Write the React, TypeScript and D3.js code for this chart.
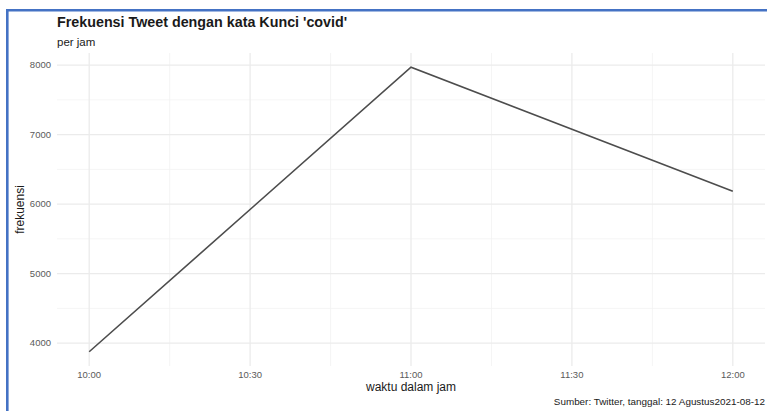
import React from "react";
import * as d3 from "d3";

const times = ["10:00", "11:00", "12:00"];
const counts = [3875, 7970, 6185];
const yTicks = [4000, 5000, 6000, 7000, 8000];
const xTickLabels = ["10:00", "10:30", "11:00", "11:30", "12:00"];

const W = 767;
const H = 411;
const FONT = "'Liberation Sans', Arial, sans-serif";

function toMin(t: string) {
  const [h, m] = t.split(":").map(Number);
  return h * 60 + m;
}

export default function App() {
  const panel = { left: 57, right: 765, top: 53, bottom: 366 };
  const xs = times.map(toMin);
  const xMin = d3.min(xs)!, xMax = d3.max(xs)!;
  const xPad = (xMax - xMin) * 0.05;
  const x = d3.scaleLinear().domain([xMin - xPad, xMax + xPad]).range([panel.left, panel.right]);
  const yMin = d3.min(counts)!, yMax = d3.max(counts)!;
  const yPad = (yMax - yMin) * 0.05;
  const y = d3.scaleLinear().domain([yMin - yPad, yMax + yPad]).range([panel.bottom, panel.top]);

  const xMajor = xTickLabels.map(toMin);
  const xMinor = xMajor.slice(0, -1).map((v) => v + 15);
  const yMinor = yTicks.slice(0, -1).map((v) => v + 500);

  const line = d3.line<number>().x((_, i) => x(xs[i])).y((d) => y(d));

  return (
    <svg width={W} height={H} style={{ position: "absolute", left: 0, top: 0, background: "#fff" }} fontFamily={FONT}>
      <rect x={0} y={0} width={W} height={H} fill="#fff" />
      {/* blue frame */}
      <line x1={7.3} x2={7.3} y1={9} y2={H} stroke="#4472C4" strokeWidth={2.6} />
      <line x1={6} x2={W} y1={10.3} y2={10.3} stroke="#4472C4" strokeWidth={2.6} />

      {/* minor grid */}
      {xMinor.map((v) => (
        <line key={"xm" + v} x1={x(v)} x2={x(v)} y1={panel.top} y2={panel.bottom} stroke="#f2f2f2" strokeWidth={0.8} />
      ))}
      {yMinor.map((v) => (
        <line key={"ym" + v} x1={panel.left} x2={panel.right} y1={y(v)} y2={y(v)} stroke="#f2f2f2" strokeWidth={0.8} />
      ))}
      {/* major grid */}
      {xMajor.map((v) => (
        <line key={"xM" + v} x1={x(v)} x2={x(v)} y1={panel.top} y2={panel.bottom} stroke="#ebebeb" strokeWidth={1.3} />
      ))}
      {yTicks.map((v) => (
        <line key={"yM" + v} x1={panel.left} x2={panel.right} y1={y(v)} y2={y(v)} stroke="#ebebeb" strokeWidth={1.3} />
      ))}

      <path d={line(counts)!} fill="none" stroke="#4d4d4d" strokeWidth={1.6} />

      {/* y tick labels */}
      {yTicks.map((v) => (
        <text key={"yl" + v} x={51} y={y(v)} dy="0.35em" textAnchor="end" fontSize={9.5} fill="#5a5a5a">
          {v}
        </text>
      ))}
      {/* x tick labels */}
      {xTickLabels.map((t) => (
        <text key={"xl" + t} x={x(toMin(t))} y={378} textAnchor="middle" fontSize={9.5} fill="#5a5a5a">
          {t}
        </text>
      ))}

      <text x={57} y={27} fontSize={14.3} fontWeight="bold" fill="#1a1a1a">
        Frekuensi Tweet dengan kata Kunci 'covid'
      </text>
      <text x={57} y={46} fontSize={11.5} fill="#1a1a1a">per jam</text>

      <text x={(panel.left + panel.right) / 2} y={391} textAnchor="middle" fontSize={12} fill="#1a1a1a">
        waktu dalam jam
      </text>
      <text transform={`translate(24,${(panel.top + panel.bottom) / 2}) rotate(-90)`} textAnchor="middle" fontSize={12} fill="#1a1a1a">
        frekuensi
      </text>
      <text x={765} y={405} textAnchor="end" fontSize={9.9} fill="#1a1a1a">
        Sumber: Twitter, tanggal: 12 Agustus2021-08-12
      </text>
    </svg>
  );
}
